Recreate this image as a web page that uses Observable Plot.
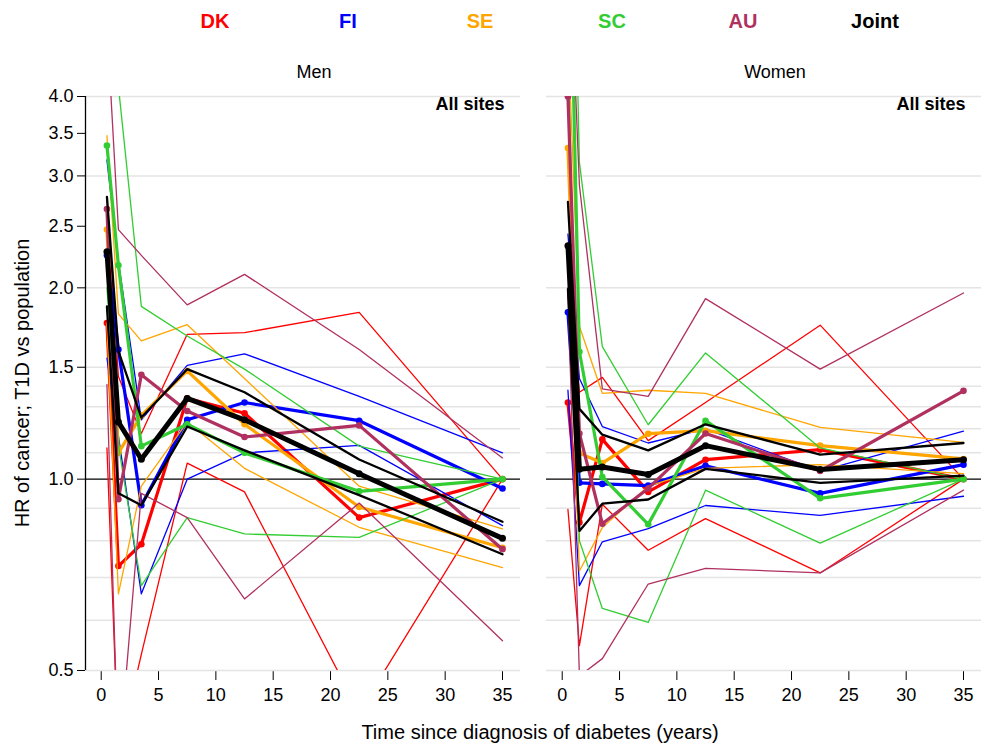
<!DOCTYPE html>
<html><head><meta charset="utf-8">
<script src="https://cdn.jsdelivr.net/npm/d3@7"></script>
<script src="https://cdn.jsdelivr.net/npm/@observablehq/plot@0.6"></script>
<style>
body{margin:0;background:#fff;font-family:"Liberation Sans",Arial,sans-serif;}
#wrap{position:relative;width:981px;height:746px;overflow:hidden;}
#legend{position:absolute;left:0;top:0;width:981px;height:40px;}
#legend span{position:absolute;top:9px;line-height:24px;transform:translateX(-50%);font-weight:bold;font-size:20px;}
#chart{position:absolute;left:0;top:40px;}
</style></head><body>
<div id="wrap"><div id="legend"></div><div id="chart"></div></div>
<script>
const sexes = ["Men", "Women"];
const countries = ["DK", "FI", "SE", "SC", "AU", "Joint"];
const colors = ["#ff0000", "#0000ff", "#ffa500", "#32cd32", "#b03060", "#000000"];
const legendX = [215, 348, 480, 612, 743, 875];
const times = [0.5, 1.5, 3.5, 7.5, 12.5, 22.5, 35];
const yTicks = [0.5, 1.0, 1.5, 2.0, 2.5, 3.0, 3.5, 4.0];
const yGrid = [0.5, 0.6, 0.7, 0.8, 0.9, 1.1, 1.2, 1.3, 1.4, 1.5, 2, 3, 4];
const xTicks = [0, 5, 10, 15, 20, 25, 30, 35];

// Men: rows = DK, FI, SE, SC, AU, Joint; columns = times
const menEst = [
  [1.76, 0.73, 0.79, 1.34, 1.27, 0.87, 1.0],
  [2.25, 1.60, 0.91, 1.24, 1.32, 1.236, 0.967],
  [2.47, 1.10, 1.26, 1.48, 1.22, 0.904, 0.78],
  [3.35, 2.17, 1.127, 1.22, 1.10, 0.957, 1.0],
  [2.66, 0.93, 1.46, 1.28, 1.165, 1.215, 0.776],
  [2.28, 1.23, 1.075, 1.34, 1.24, 1.02, 0.807]
];
const menLo = [
  [1.12, 0.37, 0.53, 1.06, 0.955, 0.43, 1.0],
  [1.55, 1.17, 0.66, 1.0, 1.10, 1.13, 0.845],
  [1.76, 0.66, 0.975, 1.23, 1.04, 0.84, 0.726],
  [2.0, 1.13, 0.68, 0.87, 0.82, 0.81, 1.0],
  [1.41, 0.353, 0.95, 0.87, 0.648, 0.917, 0.557],
  [1.87, 0.95, 0.91, 1.21, 1.11, 0.944, 0.762]
];
const menHi = [
  [2.77, 1.45, 1.18, 1.69, 1.70, 1.83, 1.0],
  [3.18, 2.2, 1.24, 1.51, 1.575, 1.35, 1.10],
  [3.47, 1.82, 1.65, 1.75, 1.44, 0.975, 0.835],
  [5.6, 4.15, 1.87, 1.68, 1.49, 1.127, 1.0],
  [5.2, 2.47, 2.25, 1.88, 2.1, 1.6, 1.08],
  [2.78, 1.59, 1.25, 1.49, 1.37, 1.074, 0.857]
];
// Women
const womenEst = [
  [1.32, 0.855, 1.155, 0.955, 1.073, 1.113, 1.0],
  [1.83, 0.987, 0.983, 0.977, 1.05, 0.95, 1.054],
  [3.32, 1.099, 1.06, 1.179, 1.192, 1.129, 1.076],
  [10.0, 1.587, 1.008, 0.849, 1.236, 0.933, 1.0],
  [4.0, 1.18, 0.851, 0.967, 1.18, 1.03, 1.377],
  [2.33, 1.037, 1.045, 1.017, 1.129, 1.036, 1.073]
];
const womenLo = [
  [0.896, 0.547, 0.913, 0.773, 0.867, 0.712, 1.0],
  [1.38, 0.68, 0.797, 0.836, 0.909, 0.877, 0.94],
  [2.2, 0.717, 0.839, 0.975, 1.04, 1.054, 1.02],
  [5.0, 0.8, 0.626, 0.595, 0.961, 0.793, 1.0],
  [2.0, 0.49, 0.522, 0.684, 0.724, 0.712, 0.961],
  [1.99, 0.829, 0.915, 0.929, 1.038, 0.987, 1.013]
];
const womenHi = [
  [1.95, 1.37, 1.446, 1.15, 1.32, 1.747, 1.0],
  [2.43, 1.44, 1.21, 1.14, 1.2, 1.03, 1.19],
  [5.0, 1.74, 1.365, 1.38, 1.365, 1.206, 1.143],
  [20.0, 3.15, 1.616, 1.218, 1.58, 1.12, 1.0],
  [8.0, 2.9, 1.387, 1.35, 1.923, 1.49, 1.963],
  [2.73, 1.29, 1.175, 1.11, 1.22, 1.093, 1.14]
];

const EST = [menEst, womenEst], LO = [menLo, womenLo], HI = [menHi, womenHi];
const rows = [];
sexes.forEach((s, si) => countries.forEach((c, ci) => times.forEach((t, ti) => {
  rows.push({sex: s, country: c, time: t, est: EST[si][ci][ti], lo: LO[si][ci][ti], hi: HI[si][ci][ti]});
})));

// legend
const leg = document.getElementById("legend");
countries.forEach((c, i) => {
  const sp = document.createElement("span");
  sp.textContent = c; sp.style.color = colors[i]; sp.style.left = legendX[i] + "px";
  leg.appendChild(sp);
});

const xDomain = [-1.37, 36.57];
const marks = [
  Plot.ruleY(yGrid, {stroke: "#e4e4e4", strokeWidth: 1.5}),
  Plot.ruleY([1], {stroke: "#000", strokeWidth: 1.2})
];
countries.forEach((c, ci) => {
  const d = rows.filter(r => r.country === c);
  const joint = c === "Joint";
  const col = colors[ci];
  marks.push(
    Plot.line(d, {x: "time", y: "lo", fx: "sex", stroke: col, strokeWidth: joint ? 2.3 : 1.3, clip: true}),
    Plot.line(d, {x: "time", y: "hi", fx: "sex", stroke: col, strokeWidth: joint ? 2.3 : 1.3, clip: true}),
    Plot.line(d, {x: "time", y: "est", fx: "sex", stroke: col, strokeWidth: joint ? 5 : 3.2, clip: true}),
    Plot.dot(d, {x: "time", y: "est", fx: "sex", fill: col, r: joint ? 3.5 : 3.3, clip: true})
  );
});
marks.push(
  Plot.ruleX([{s: "Men"}], {fx: "s", x: () => xDomain[0], y1: 0.5, y2: 4, stroke: "#000", strokeWidth: 1.3}),
  Plot.text(sexes.map(s => ({s})), {fx: "s", text: () => "All sites", frameAnchor: "top-right", lineAnchor: "middle", dx: -16, dy: 8, fontWeight: "bold", fontSize: 18, textAnchor: "end"}),
  Plot.text(sexes.map(s => ({s})), {fx: "s", text: "s", frameAnchor: "top", lineAnchor: "middle", dx: 11, dy: -24, fontSize: 18})
);

const chart = Plot.plot({
  width: 981, height: 706,
  marginLeft: 85, marginRight: 0, marginTop: 56, marginBottom: 76,
  style: {fontFamily: '"Liberation Sans", Arial, sans-serif', fontSize: "18px", background: "white", color: "#000"},
  fx: {domain: sexes, paddingInner: 0.0564, paddingOuter: 0, axis: null, label: null},
  x: {domain: xDomain, ticks: xTicks, tickSize: 10, tickPadding: 8, label: null},
  y: {type: "log", domain: [0.5, 4], ticks: yTicks, tickFormat: d3.format(".1f"), tickSize: 8, tickPadding: 4, label: null},
  marks
});
document.getElementById("chart").appendChild(chart);

const svg = d3.select(chart.tagName.toLowerCase() === "svg" ? chart : chart.querySelector("svg"));
svg.append("text").attr("x", 540).attr("y", 699).attr("text-anchor", "middle")
  .attr("font-size", 20).attr("fill", "#000").text("Time since diagnosis of diabetes (years)");
svg.append("text").attr("transform", "translate(29,343) rotate(-90)").attr("text-anchor", "middle")
  .attr("font-size", 20).attr("fill", "#000").text("HR of cancer; T1D vs population");
</script>
</body></html>
